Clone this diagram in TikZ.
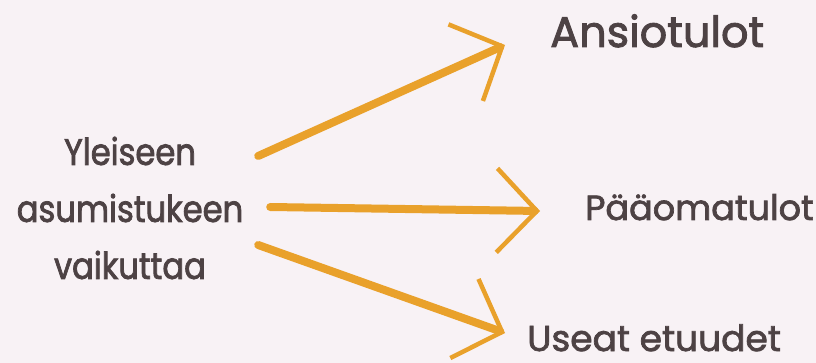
\documentclass[tikz,border=0pt]{standalone}
\usepackage{fontspec}
\newfontfamily\handfont{Poppins}[FakeBold=2]
\newfontfamily\handnarrow{Poppins}[FakeBold=2, FakeStretch=0.87]
\usetikzlibrary{arrows.meta, positioning}
\definecolor{bgpink}{HTML}{F8F2F5}
\definecolor{inkbrown}{HTML}{4D4244}
\definecolor{brushorange}{HTML}{E9A12B}

\begin{document}
\begin{tikzpicture}[x=1pt, y=-1pt,
  word/.style={text=inkbrown, font=\handfont\fontsize{#1}{57}\selectfont, inner sep=0pt},
  brush/.style={draw=brushorange, line width=8pt, line cap=round,
    -{Straight Barb[length=40pt, width=84pt, line width=4.5pt]}}]
% Background
\fill[bgpink] (0,0) rectangle (816,363);

% Source text
\node[word=37, font=\handnarrow\fontsize{37}{57}\selectfont, align=center, text width=236pt] (tuki) at (130,208) {Yleiseen\\asumistukeen\\vaikuttaa};

% Targets
\node[word=43, anchor=base west] (ansio) at (550,47) {Ansiotulot};
\node[word=35, anchor=base west] (paaoma) at (585,220) {Pääomatulot};
\node[word=36, anchor=base west] (etuudet) at (527,351) {Useat etuudet};

% Arrows
\draw[brush] ([shift={(10,-52)}]tuki.east) -- ([shift={(-45,-2)}]ansio.base west);
\draw[brush] ([shift={(22,-1)}]tuki.east) -- ([shift={(-45,-9)}]paaoma.base west);
\draw[brush] ([shift={(10,37)}]tuki.east) -- ([shift={(-22,-18)}]etuudet.base west);
\end{tikzpicture}
\end{document}
